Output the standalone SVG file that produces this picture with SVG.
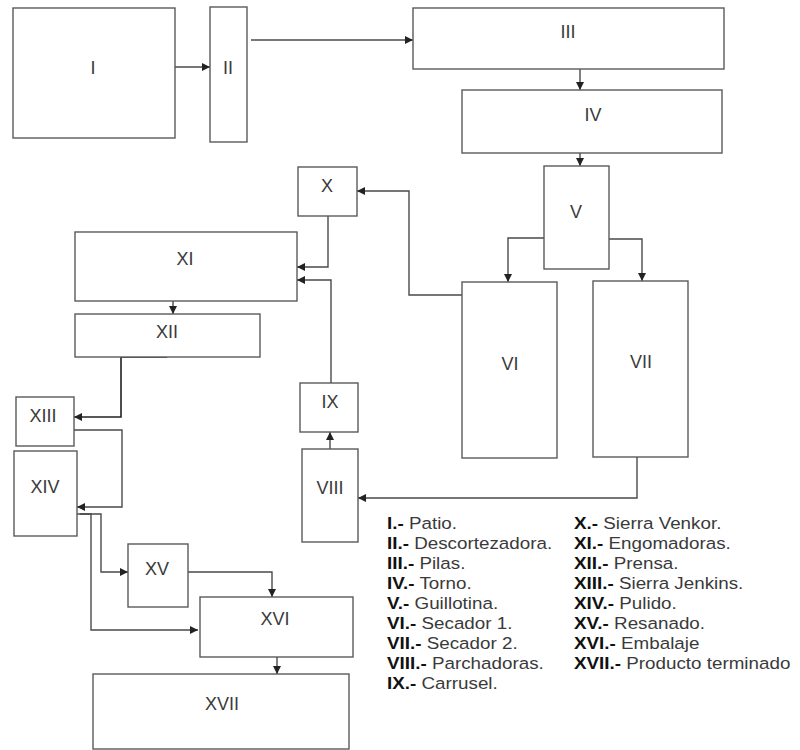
<svg xmlns="http://www.w3.org/2000/svg" width="800" height="750" viewBox="0 0 800 750">
<style>
.box{fill:#fff;stroke:#5a5a5a;stroke-width:1.4}
.lbl{font-family:"Liberation Sans",Arial,sans-serif;font-size:18px;fill:#3a3a3a;text-anchor:middle}
.con{fill:none;stroke:#4a4a4a;stroke-width:1.4}
.leg{font-family:"Liberation Sans",Arial,sans-serif;font-size:16.5px;fill:#3a3a3a}
.leg tspan.b{font-weight:bold;fill:#111}
</style>
<defs>
<marker id="ah" viewBox="0 0 10 10" refX="10" refY="5" markerWidth="8" markerHeight="8" markerUnits="userSpaceOnUse" orient="auto">
<path d="M0,0 L10,5 L0,10 z" fill="#222"/>
</marker>
</defs>
<rect width="800" height="750" fill="#fff"/>
<g id="connectors">
<path class="con" d="M175,67 H210" marker-end="url(#ah)"/>
<path class="con" d="M251,40 H413" marker-end="url(#ah)"/>
<path class="con" d="M580,69 V90" marker-end="url(#ah)"/>
<path class="con" d="M580,153 V166" marker-end="url(#ah)"/>
<path class="con" d="M544,238 H508 V282" marker-end="url(#ah)"/>
<path class="con" d="M609,239 H642 V281" marker-end="url(#ah)"/>
<path class="con" d="M462,295 H409 V191 H357" marker-end="url(#ah)"/>
<path class="con" d="M328,216 V267 H297" marker-end="url(#ah)"/>
<path class="con" d="M331,383 V280 H297" marker-end="url(#ah)"/>
<path class="con" d="M330,449 V432" marker-end="url(#ah)"/>
<path class="con" d="M637,457 V498 H358" marker-end="url(#ah)"/>
<path class="con" d="M173,301 V314" marker-end="url(#ah)"/>
<path class="con" d="M167,357 H121 V417 H74" marker-end="url(#ah)" style="stroke:#222;stroke-width:1.6"/>
<path class="con" d="M74,430 H122 V507 H77" marker-end="url(#ah)"/>
<path class="con" d="M77,514 H101 V572 H128" marker-end="url(#ah)"/>
<path class="con" d="M80,514 H91 V630 H198" marker-end="url(#ah)"/>
<path class="con" d="M188,572 H272 V597" marker-end="url(#ah)"/>
<path class="con" d="M277,657 V674" marker-end="url(#ah)"/>
</g>
<g id="n1"><rect class="box" x="13" y="8" width="162" height="130"/><text class="lbl" x="93" y="74">I</text></g>
<g id="n2"><rect class="box" x="210" y="7" width="37" height="135"/><text class="lbl" x="228" y="74">II</text></g>
<g id="n3"><rect class="box" x="413" y="8" width="311" height="61"/><text class="lbl" x="568" y="38">III</text></g>
<g id="n4"><rect class="box" x="462" y="90" width="260" height="63"/><text class="lbl" x="593" y="121">IV</text></g>
<g id="n5"><rect class="box" x="544" y="166" width="65" height="103"/><text class="lbl" x="576" y="218">V</text></g>
<g id="n6"><rect class="box" x="462" y="282" width="95" height="176"/><text class="lbl" x="510" y="370">VI</text></g>
<g id="n7"><rect class="box" x="593" y="281" width="95" height="176"/><text class="lbl" x="641" y="368">VII</text></g>
<g id="n8"><rect class="box" x="302" y="449" width="56" height="93"/><text class="lbl" x="330" y="494">VIII</text></g>
<g id="n9"><rect class="box" x="300" y="383" width="58" height="49"/><text class="lbl" x="330" y="408">IX</text></g>
<g id="n10"><rect class="box" x="298" y="167" width="59" height="49"/><text class="lbl" x="327" y="192">X</text></g>
<g id="n11"><rect class="box" x="75" y="232" width="222" height="69"/><text class="lbl" x="185" y="265">XI</text></g>
<g id="n12"><rect class="box" x="75" y="314" width="185" height="43"/><text class="lbl" x="167" y="338">XII</text></g>
<g id="n13"><rect class="box" x="16" y="397" width="58" height="49"/><text class="lbl" x="43" y="422">XIII</text></g>
<g id="n14"><rect class="box" x="14" y="451" width="63" height="85"/><text class="lbl" x="45" y="493">XIV</text></g>
<g id="n15"><rect class="box" x="128" y="544" width="60" height="63"/><text class="lbl" x="157" y="575">XV</text></g>
<g id="n16"><rect class="box" x="200" y="597" width="153" height="60"/><text class="lbl" x="275" y="625">XVI</text></g>
<g id="n17"><rect class="box" x="93" y="674" width="256" height="75"/><text class="lbl" x="222" y="710">XVII</text></g>
<g id="legend">
<g transform="translate(387 0) scale(1.14 1)">
<text class="leg" x="0" y="529"><tspan class="b">I.-</tspan> Patio.</text>
<text class="leg" x="0" y="549"><tspan class="b">II.-</tspan> Descortezadora.</text>
<text class="leg" x="0" y="569"><tspan class="b">III.-</tspan> Pilas.</text>
<text class="leg" x="0" y="589"><tspan class="b">IV.-</tspan> Torno.</text>
<text class="leg" x="0" y="609"><tspan class="b">V.-</tspan> Guillotina.</text>
<text class="leg" x="0" y="629"><tspan class="b">VI.-</tspan> Secador 1.</text>
<text class="leg" x="0" y="649"><tspan class="b">VII.-</tspan> Secador 2.</text>
<text class="leg" x="0" y="669"><tspan class="b">VIII.-</tspan> Parchadoras.</text>
<text class="leg" x="0" y="689"><tspan class="b">IX.-</tspan> Carrusel.</text>
</g>
<g transform="translate(574 0) scale(1.14 1)">
<text class="leg" x="0" y="529"><tspan class="b">X.-</tspan> Sierra Venkor.</text>
<text class="leg" x="0" y="549"><tspan class="b">XI.-</tspan> Engomadoras.</text>
<text class="leg" x="0" y="569"><tspan class="b">XII.-</tspan> Prensa.</text>
<text class="leg" x="0" y="589"><tspan class="b">XIII.-</tspan> Sierra Jenkins.</text>
<text class="leg" x="0" y="609"><tspan class="b">XIV.-</tspan> Pulido.</text>
<text class="leg" x="0" y="629"><tspan class="b">XV.-</tspan> Resanado.</text>
<text class="leg" x="0" y="649"><tspan class="b">XVI.-</tspan> Embalaje</text>
<text class="leg" x="0" y="669"><tspan class="b">XVII.-</tspan> Producto terminado</text>
</g>
</g>
</svg>
